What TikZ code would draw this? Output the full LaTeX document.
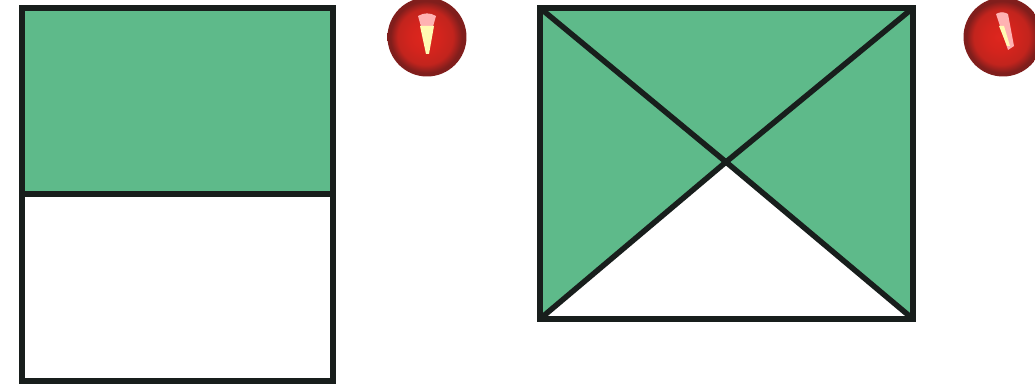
\documentclass[tikz,border=0pt]{standalone}
\usepackage{xcolor}
\usetikzlibrary{positioning,calc}
\definecolor{panelgreen}{RGB}{94,186,138}
\definecolor{edgeblack}{RGB}{24,30,28}
\definecolor{bulbred}{RGB}{222,38,30}
\definecolor{bulbdark}{RGB}{128,30,28}
\pgfdeclareradialshading{bulbshade}{\pgfpoint{-0.1cm}{0cm}}{
  color(0cm)=(bulbred); color(0.35cm)=(bulbred!95!black); color(0.62cm)=(bulbred!70!bulbdark);
  color(0.8cm)=(bulbdark); color(1cm)=(bulbdark)}
\begin{document}
\begin{tikzpicture}[x=0.02cm,y=-0.02cm,
  panel/.style={draw=edgeblack, line width=0.11cm, anchor=north west, inner sep=0pt, outer sep=0pt},
  edge/.style={draw=edgeblack, line width=0.11cm},
  bulb/.style={circle, minimum size=1.58cm, inner sep=0pt, shading=bulbshade},
  glint/.style={fill=white!70!red},
  wick/.style={fill=yellow!30!white},
]
\useasboundingbox (0,0) rectangle (1035,391);
\fill[white] (0,0) rectangle (1035,391);
% left square
\node[panel, fill=white, minimum width=6.22cm, minimum height=7.46cm] (boxa) at (22,8) {};
\node[panel, fill=panelgreen, minimum width=6.22cm, minimum height=3.72cm] (boxaTop) at (22,8) {};
% right square
\node[panel, fill=panelgreen, minimum width=7.46cm, minimum height=6.22cm] (boxb) at (540,8) {};
\coordinate (mid) at (726,162);
\fill[white] (boxb.south west) -- (mid) -- (boxb.south east) -- cycle;
\draw[edge] (boxb.north west) -- (mid);
\draw[edge] (boxb.north east) -- (mid);
\draw[edge] (boxb.south west) -- (mid);
\draw[edge] (boxb.south east) -- (mid);
\draw[panel] (boxb.north west) rectangle (boxb.south east);
% bulbs
\node[bulb] (pina) at (427,37) {};
\node[bulb] (pinb) at (1003,37) {};
\fill[glint] (418,16) to[bend left=30] (436,16) -- (432,30) -- (422,30) -- cycle;
\fill[wick] (420,26) -- (434,26) -- (429,54) -- (426,54) -- cycle;
\fill[glint] (996,14) to[bend left=30] (1008,14) -- (1014,46) -- (1008,50) -- cycle;
\fill[wick] (999,26) -- (1004,26) -- (1010,46) -- (1007,46) -- cycle;
\end{tikzpicture}
\end{document}
